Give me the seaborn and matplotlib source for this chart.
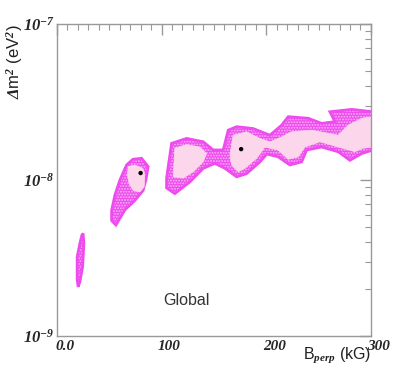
import numpy as np
import pandas as pd
import matplotlib
matplotlib.use("Agg")
import matplotlib.pyplot as plt
import matplotlib.transforms as mtransforms
from matplotlib.ticker import MultipleLocator, LogLocator, FixedLocator
import seaborn as sns

# allowed regions (outer contour = magenta band, inner contour = pink)
island1_b = [25.1, 25.8, 24.6, 22.0, 20.4, 19.4, 19.4, 22.0, 23.9]
island1_dm2 = [4.55e-9, 3.93e-9, 2.78e-9, 2.23e-9, 2.07e-9, 2.29e-9, 3.22e-9, 3.93e-9, 4.44e-9]

island2_b = [80.9, 87.2, 85.0, 82.4, 74.5, 65.0, 56.4, 52.3, 52.3, 55.4, 60.2, 66.6, 72.6]
island2_dm2 = [1.38e-8, 1.22e-8, 1.0e-8, 8.6e-9, 7.4e-9, 6.45e-9, 5.15e-9, 5.5e-9, 6.4e-9,
               8.0e-9, 1.0e-8, 1.25e-8, 1.36e-8]
island2_in_b = [68.1, 74.5, 81.9, 84.0, 83.4, 79.3, 72.9, 69.0, 67.5]
island2_in_dm2 = [1.22e-8, 1.25e-8, 1.19e-8, 1.08e-8, 9.06e-9, 8.4e-9, 8.6e-9, 9.5e-9, 1.08e-8]

island3_b = [104.8, 109.6, 123.9, 139.8, 149.3, 158.9, 163.7, 171.7, 187.5, 203.5, 214.7, 221.0,
             240.1, 252.9, 265.6, 260.8, 281.6, 302.0,
             302.0, 291.1, 279.9, 268.7, 252.9, 238.6, 233.8, 222.6, 211.4, 200.6, 194.0, 181.2,
             171.7, 160.5, 150.9, 139.8, 127.1, 112.7, 104.8]
island3_dm2 = [1.03e-8, 1.72e-8, 1.85e-8, 1.76e-8, 1.56e-8, 1.56e-8, 2.09e-8, 2.2e-8, 2.14e-8,
               1.94e-8, 2.25e-8, 2.55e-8, 2.49e-8, 2.31e-8, 2.37e-8, 2.74e-8, 2.84e-8, 2.74e-8,
               1.56e-8, 1.48e-8, 1.34e-8, 1.52e-8, 1.63e-8, 1.56e-8, 1.31e-8, 1.25e-8, 1.41e-8,
               1.47e-8, 1.31e-8, 1.1e-8, 1.05e-8, 1.19e-8, 1.28e-8, 1.19e-8, 9.75e-9, 8.2e-9, 8.9e-9]
island3_inA_b = [111.1, 112.7, 123.9, 136.6, 143.0, 139.8, 130.2, 120.7]
island3_inA_dm2 = [1.05e-8, 1.6e-8, 1.69e-8, 1.63e-8, 1.48e-8, 1.31e-8, 1.13e-8, 1.03e-8]
island3_inB_b = [165.3, 168.4, 181.2, 193.9, 203.5, 211.4, 224.2, 243.3, 268.7, 278.3, 291.1, 302.0,
                 302.0, 292.6, 284.7, 268.7, 251.3, 237.0, 230.5, 221.0, 211.4, 198.7, 190.8,
                 179.6, 173.2, 166.9]
island3_inB_dm2 = [1.45e-8, 1.94e-8, 2.04e-8, 1.85e-8, 1.76e-8, 1.85e-8, 2.04e-8, 2.09e-8, 1.94e-8,
                   2.25e-8, 2.49e-8, 2.55e-8,
                   1.63e-8, 1.6e-8, 1.52e-8, 1.63e-8, 1.76e-8, 1.63e-8, 1.41e-8, 1.36e-8,
                   1.556e-8, 1.63e-8, 1.38e-8, 1.19e-8, 1.13e-8, 1.25e-8]

# best fit points
best_b = [80.0, 176.0]
best_dm2 = [1.11e-8, 1.58e-8]

outer_regions = [(island1_b, island1_dm2), (island2_b, island2_dm2), (island3_b, island3_dm2)]
inner_regions = [(island2_in_b, island2_in_dm2), (island3_inA_b, island3_inA_dm2),
                 (island3_inB_b, island3_inB_dm2)]

sns.set_style("white")
plt.rcParams["hatch.linewidth"] = 0.9
plt.rcParams["mathtext.fontset"] = "custom"
plt.rcParams["mathtext.rm"] = "Liberation Serif:bold:italic"
plt.rcParams["mathtext.it"] = "Liberation Serif:bold:italic"
plt.rcParams["mathtext.bf"] = "Liberation Serif:bold:italic"

fig = plt.figure(figsize=(4.09, 3.82), dpi=100)
ax = fig.add_axes([0.139, 0.120, 0.768, 0.817])

magenta = "#ee4cee"
pink = "#fcd6ea"
for bx, by in outer_regions:
    ax.fill(bx, by, facecolor=magenta, edgecolor="#f9b4f9", hatch="......", linewidth=0)
    ax.fill(bx, by, facecolor="none", edgecolor=magenta, linewidth=2.0)
for bx, by in inner_regions:
    ax.fill(bx, by, facecolor=pink, edgecolor=pink, linewidth=0.5)

pts = pd.DataFrame({"B": best_b, "dm2": best_dm2})
sns.scatterplot(data=pts, x="B", y="dm2", color="black", s=10, edgecolor="none", ax=ax, zorder=5)

ax.set_yscale("log")
ax.set_xlim(0, 300)
ax.set_ylim(1e-9, 1e-7)

ax.xaxis.set_major_locator(FixedLocator([0, 100, 200, 300]))
ax.xaxis.set_minor_locator(MultipleLocator(10))
ax.set_xticklabels(["0.0", "100", "200", "300"])
ax.yaxis.set_major_locator(FixedLocator([1e-9, 1e-8, 1e-7]))
ax.yaxis.set_minor_locator(LogLocator(base=10, subs=np.arange(2, 10)))
ax.set_yticklabels([r"$10^{-9}$", r"$10^{-8}$", r"$10^{-7}$"])

for sp in ax.spines.values():
    sp.set_color("#999999")
    sp.set_linewidth(1.0)
ax.tick_params(which="both", direction="in", top=True, right=True, color="#999999",
               labelsize=11, pad=3)
ax.tick_params(axis="y", which="major", pad=1.5)
ax.tick_params(which="major", length=8, width=1)
ax.tick_params(which="minor", length=4, width=0.8)
for lab in ax.get_xticklabels():
    lab.set_fontfamily("Liberation Serif")
    lab.set_fontweight("bold")
    lab.set_fontstyle("italic")
    lab.set_transform(lab.get_transform() + mtransforms.ScaledTranslation(8 / 100, 0, fig.dpi_scale_trans))
for lab in ax.get_yticklabels():
    lab.set_fontsize(12)

ax.set_xlabel(r"B$_{\rm perp}$ (kG)", fontsize=11.5, family="Liberation Sans", color="#222222")
ax.xaxis.set_label_coords(1.0, -0.03)
ax.xaxis.label.set_ha("right")
ax.set_ylabel(r"$\Delta$m$^2$ (eV$^2$)", fontsize=12, family="Liberation Sans", color="#222222")
ax.yaxis.set_label_coords(-0.135, 1.0)
ax.yaxis.label.set_ha("right")
ax.yaxis.label.set_va("center")

ax.text(124, 1.7e-9, "Global", fontsize=11.5, color="#333333", ha="center", va="center",
        family="Liberation Sans")

fig.savefig("out.png", dpi=100)
